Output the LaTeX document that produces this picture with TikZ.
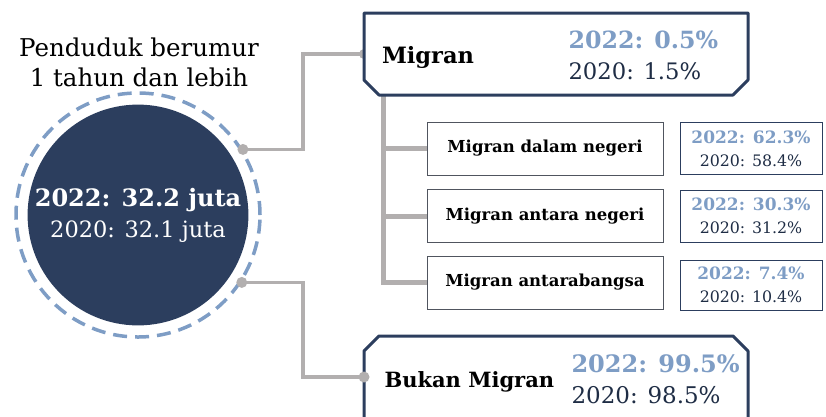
\documentclass[tikz,border=0pt]{standalone}
\usepackage{fontspec}
\setmainfont{DejaVu Serif}
\usetikzlibrary{backgrounds}
\definecolor{navy}{HTML}{2C3E5E}
\definecolor{paleblue}{HTML}{7E9DC5}
\definecolor{linegray}{HTML}{B2AFAF}
\definecolor{boxgray}{HTML}{50555F}
\definecolor{inkblue}{HTML}{1F2D45}
\newcommand{\fsz}[1]{\fontsize{#1}{#1}\selectfont}
\newcommand{\valtxt}[2]{{\color{paleblue}\bfseries\fsz{17}2022: #1\%}\\{\color{inkblue}\fsz{15.8}2020: #2\%}}

\begin{document}
\begin{tikzpicture}[x=1pt,y=-1pt,
  mainbox/.style={minimum width=384pt,minimum height=82pt,outer sep=0pt},
  frame/.style={draw=navy,line width=3pt,fill=white,line join=round},
  subbox/.style={draw=boxgray,line width=1pt,fill=white,minimum width=236pt,
    minimum height=53pt,font=\bfseries\fsz{16.5}},
  valbox/.style={draw=navy,line width=1pt,fill=white,minimum width=142pt,
    minimum height=52pt,align=center,inner sep=1pt,
    font=\fontsize{16}{23}\selectfont},
  link/.style={draw=linegray,line width=3.5pt},
  branch/.style={draw=linegray,line width=5pt},
  dot/.style={fill=linegray}]
\useasboundingbox (0,0) rectangle (826,416);
\node[align=center,font=\fontsize{24.5}{30}\selectfont] (title) at (139,62)
  {Penduduk berumur\\1 tahun dan lebih};
\node[circle,draw=paleblue,line width=3.5pt,dash pattern=on 14pt off 8pt,
  minimum size=244pt] (ring) at (138,215) {};
\node[circle,fill=navy,minimum size=216pt,text=white,align=center,
  font=\fontsize{22.5}{31}\selectfont] (pop) at (138,215)
  {{\fsz{24}\bfseries 2022: 32.2 juta}\\2020: 32.1 juta};
% kotak utama
\node[mainbox] (mig) at (556,54) {};
\filldraw[frame] (mig.north west) -- (mig.north east) -- ([yshift=15pt]mig.south east)
  -- ([xshift=-15pt]mig.south east) -- ([xshift=15pt]mig.south west)
  -- ([yshift=15pt]mig.south west) -- cycle;
\node[anchor=base,font=\bfseries\fsz{22.5}] (miglbl) at (428,63) {Migran};
\node[anchor=base west,font=\bfseries\fsz{23.7},text=paleblue] (mignew) at (565,48) {2022: 0.5\%};
\node[anchor=base west,font=\fsz{22.7},text=inkblue] (migold) at (565,79) {2020: 1.5\%};
\node[mainbox] (bukan) at (556,377) {};
\filldraw[frame] (bukan.south west) -- ([yshift=-15pt]bukan.north west)
  -- ([xshift=15pt]bukan.north west) -- ([xshift=-15pt]bukan.north east)
  -- ([yshift=-15pt]bukan.north east) -- (bukan.south east);
\node[anchor=base west,font=\bfseries\fsz{21}] (bukanlbl) at (381,387) {Bukan Migran};
\node[anchor=base west,font=\bfseries\fsz{24},text=paleblue] (bukannew) at (568,372) {2022: 99.5\%};
\node[anchor=base west,font=\fsz{23},text=inkblue] (bukanold) at (568,403) {2020: 98.5\%};
% rincian migran
\node[subbox] (sub1) at (545,148.5) {Migran dalam negeri};
\node[subbox] (sub2) at (545,216) {Migran antara negeri};
\node[subbox] (sub3) at (545,282.5) {Migran antarabangsa};
\node[valbox] (val1) at (751,148.5) {\valtxt{62.3}{58.4}};
\node[valbox] (val2) at (751,216) {\valtxt{30.3}{31.2}};
\node[valbox,minimum height=50pt] (val3) at (751,285) {\valtxt{7.4}{10.4}};
\begin{pgfonlayer}{background}
\coordinate (trunk) at ([xshift=-173pt]mig.south);
\draw[branch] (trunk) |- (sub3.west);
\draw[branch] (trunk |- sub1.west) -- (sub1.west);
\draw[branch] (trunk |- sub2.west) -- (sub2.west);
\draw[link] (ring.32) -| ([xshift=-61pt]mig.west) -- (mig.west);
\draw[link] (ring.-33) -| ([xshift=-61pt]bukan.west) -- (bukan.west);
\fill[dot] (mig.west) circle (5pt);
\end{pgfonlayer}
\fill[dot] (ring.32) circle (5.5pt);
\fill[dot] (ring.-33) circle (5.5pt);
\fill[dot] (bukan.west) circle (5.5pt);
\end{tikzpicture}
\end{document}
